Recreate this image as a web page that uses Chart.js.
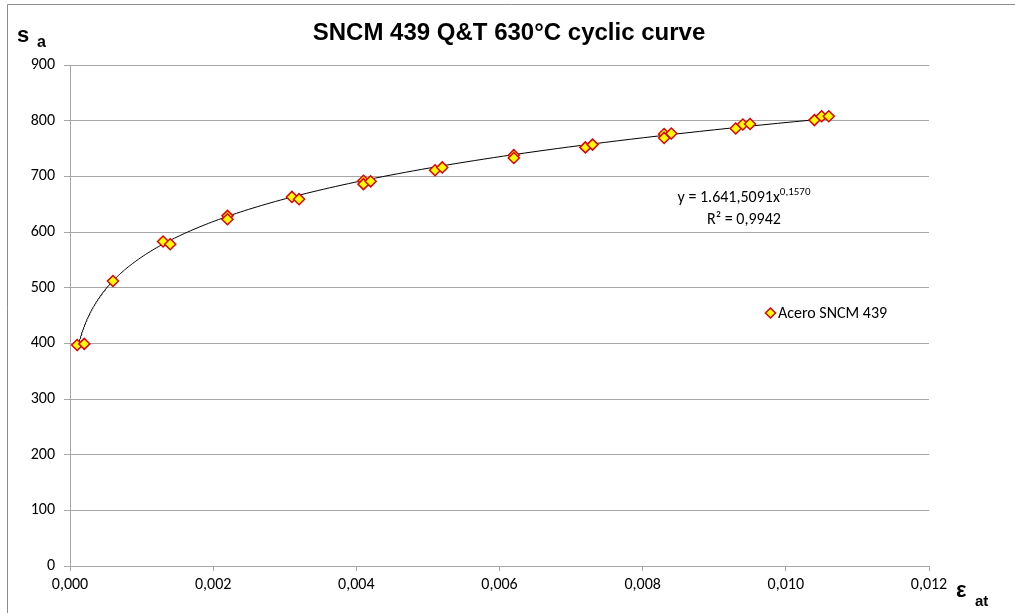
<!DOCTYPE html>
<html>
<head>
<meta charset="utf-8">
<title>SNCM 439 Q&amp;T 630°C cyclic curve</title>
<script src="https://cdn.jsdelivr.net/npm/chart.js@4.4.1/dist/chart.umd.min.js"></script>
<style>
  html, body { margin: 0; padding: 0; background: #fff; }
  #wrap { position: relative; width: 1015px; height: 613px; }
</style>
</head>
<body>
<div id="wrap"><canvas id="c" width="1015" height="613"></canvas></div>
<script>
// Measured strain amplitude (ε at) and stress amplitude (s a, MPa)
const strainAmplitude = [
  0.0001, 0.0002, 0.0006, 0.0013, 0.0014, 0.0022, 0.0022,
  0.0031, 0.0032, 0.0041, 0.0041, 0.0042, 0.0051, 0.0052,
  0.0062, 0.0062, 0.0072, 0.0073, 0.0083, 0.0083, 0.0084,
  0.0093, 0.0094, 0.0095, 0.0104, 0.0105, 0.0106
];
const stressAmplitude = [
  397, 399, 512, 583, 578, 629, 623,
  663, 659, 692, 686, 691, 711, 716,
  738, 733, 752, 757, 776, 769, 777,
  786, 793, 794, 801, 808, 808
];

// Power-law fit of the cyclic curve: s = K' * ε^n'
const fitK = 1641.5091;
const fitN = 0.1570;
const fitR2 = 0.9942;
const fitXFrom = 0.0001;
const fitXTo = 0.0106;

const xTicks = [0, 0.002, 0.004, 0.006, 0.008, 0.010, 0.012];
const yTicks = [0, 100, 200, 300, 400, 500, 600, 700, 800, 900];

const seriesName = 'Acero SNCM 439';
const chartTitle = 'SNCM 439 Q&T 630°C cyclic curve';

const labelFont = 'Carlito, Calibri, Lato, "Open Sans", sans-serif';
const boldFont = '"Liberation Sans", Arial, sans-serif';

// Trend line samples evaluated from the fitted equation
const trendPoints = [];
const steps = 200;
for (let i = 0; i <= steps; i++) {
  const x = fitXFrom * Math.pow(fitXTo / fitXFrom, i / steps);
  trendPoints.push({ x: x, y: fitK * Math.pow(x, fitN) });
}

const points = strainAmplitude.map((x, i) => ({ x: x, y: stressAmplitude[i] }));

function fmtComma(v, d) {
  return v.toFixed(d).replace('.', ',');
}
function fmtCoef(v) {
  // thousands separator '.', decimal ','
  const s = v.toFixed(4).split('.');
  const int = s[0].replace(/\B(?=(\d{3})+(?!\d))/g, '.');
  return int + ',' + s[1];
}

// Frame, titles, fit equation and legend
const decorations = {
  id: 'decorations',
  beforeDraw(chart) {
    const ctx = chart.ctx;
    ctx.save();
    ctx.fillStyle = '#fff';
    ctx.fillRect(0, 0, chart.width, chart.height);
    ctx.strokeStyle = '#8c8c8c';
    ctx.lineWidth = 1;
    ctx.beginPath();
    ctx.moveTo(1015, 4.5);
    ctx.lineTo(7.5, 4.5);
    ctx.lineTo(7.5, 613);
    ctx.stroke();
    ctx.restore();
  },
  afterDraw(chart) {
    const ctx = chart.ctx;
    ctx.save();
    ctx.fillStyle = '#000';

    // Chart title
    ctx.textBaseline = 'middle';
    ctx.font = 'bold 24px ' + boldFont;
    ctx.textAlign = 'center';
    ctx.fillText(chartTitle, 509, 33);

    // Axis titles with subscripts
    ctx.textBaseline = 'alphabetic';
    ctx.textAlign = 'left';
    ctx.font = 'bold 22px ' + boldFont;
    ctx.fillText('s', 17, 42);
    ctx.font = 'bold 16px ' + boldFont;
    ctx.fillText('a', 37, 47);

    ctx.font = 'bold 22px ' + boldFont;
    ctx.fillText('ε', 956, 597);
    ctx.font = 'bold 15px ' + boldFont;
    ctx.fillText('at', 975, 606);

    // Fit equation
    ctx.textBaseline = 'middle';
    const eqCx = 744;
    ctx.font = '16px ' + labelFont;
    const base = 'y = ' + fmtCoef(fitK) + 'x';
    const expo = fmtComma(fitN, 4);
    const wBase = ctx.measureText(base).width;
    ctx.font = '11px ' + labelFont;
    const wExp = ctx.measureText(expo).width;
    const ex = eqCx - (wBase + wExp) / 2;
    ctx.font = '16px ' + labelFont;
    ctx.fillText(base, ex, 198);
    ctx.font = '11px ' + labelFont;
    ctx.fillText(expo, ex + wBase, 192);
    ctx.font = '16px ' + labelFont;
    ctx.textAlign = 'center';
    ctx.fillText('R² = ' + fmtComma(fitR2, 4), eqCx, 220);

    // Legend
    const lx = 770.5, ly = 313;
    ctx.beginPath();
    ctx.moveTo(lx - 5, ly);
    ctx.lineTo(lx, ly - 5);
    ctx.lineTo(lx + 5, ly);
    ctx.lineTo(lx, ly + 5);
    ctx.closePath();
    ctx.fillStyle = '#ffff00';
    ctx.fill();
    ctx.strokeStyle = '#e00000';
    ctx.lineWidth = 1.5;
    ctx.stroke();
    ctx.fillStyle = '#000';
    ctx.textAlign = 'left';
    ctx.font = '16px ' + labelFont;
    ctx.fillText(seriesName, 778, ly + 1);
    ctx.restore();
  }
};

new Chart(document.getElementById('c'), {
  type: 'scatter',
  data: {
    datasets: [
      {
        label: seriesName,
        data: points,
        pointStyle: 'rectRot',
        pointRadius: 5.5,
        pointHoverRadius: 5.5,
        backgroundColor: '#ffff00',
        borderColor: '#e00000',
        borderWidth: 1.5,
        order: 1
      },
      {
        label: 'trend',
        type: 'line',
        data: trendPoints,
        borderColor: '#000',
        borderWidth: 1,
        pointRadius: 0,
        fill: false,
        tension: 0,
        order: 2
      }
    ]
  },
  plugins: [decorations],
  options: {
    responsive: false,
    animation: false,
    events: [],
    layout: { padding: { left: 0, right: 86, top: 65, bottom: 0 } },
    plugins: {
      legend: { display: false },
      title: { display: false },
      tooltip: { enabled: false }
    },
    scales: {
      x: {
        type: 'linear',
        min: 0, max: 0.012,
        afterBuildTicks(scale) { scale.ticks = xTicks.map(v => ({ value: v })); },
        afterFit(scale) { scale.height = 47; },
        grid: {
          drawOnChartArea: false,
          drawTicks: true,
          tickLength: 5,
          color: '#a6a6a6'
        },
        border: { display: true, color: '#a6a6a6', width: 1 },
        ticks: {
          padding: 4,
          color: '#000',
          font: { family: labelFont, size: 16 },
          maxRotation: 0,
          callback: v => fmtComma(v, 3)
        }
      },
      y: {
        type: 'linear',
        min: 0, max: 900,
        afterBuildTicks(scale) { scale.ticks = yTicks.map(v => ({ value: v })); },
        afterFit(scale) { scale.width = 70; },
        grid: {
          drawOnChartArea: true,
          drawTicks: true,
          tickLength: 6,
          color: '#a6a6a6',
          lineWidth: 1
        },
        border: { display: true, color: '#a6a6a6', width: 1 },
        ticks: {
          padding: 9,
          color: '#000',
          font: { family: labelFont, size: 16 },
          callback: v => String(v)
        }
      }
    }
  }
});
</script>
</body>
</html>
